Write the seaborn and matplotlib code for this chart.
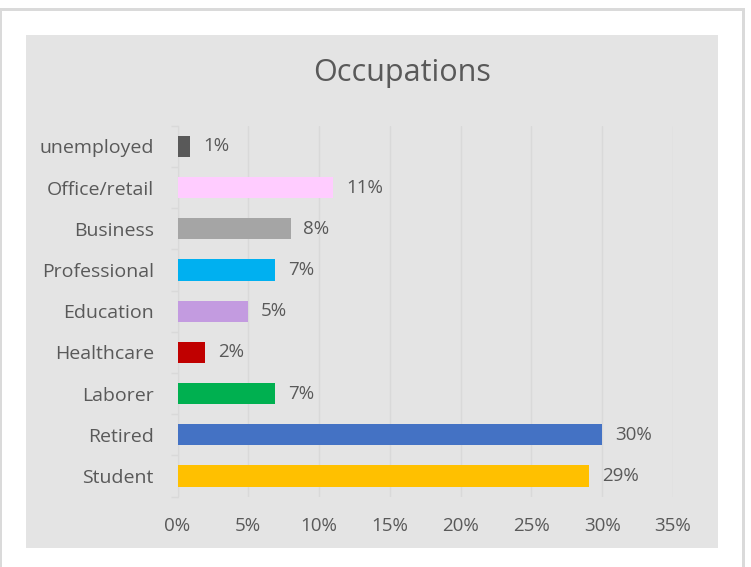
import numpy as np
import pandas as pd
import seaborn as sns
import matplotlib.pyplot as plt
from matplotlib.patches import Rectangle
from matplotlib.ticker import PercentFormatter, FixedLocator

occupations = ['unemployed', 'Office/retail', 'Business', 'Professional', 'Education',
               'Healthcare', 'Laborer', 'Retired', 'Student']
shares = [0.9, 11.0, 8.0, 6.9, 5.0, 1.95, 6.9, 30.0, 29.1]
bar_colors = ['#595959', '#ffccff', '#a5a5a5', '#00b0f0', '#c39be0',
              '#c00000', '#00b050', '#4472c4', '#ffc000']

df = pd.DataFrame({'occupation': occupations, 'share': shares})

sns.set_style('white')
plt.rcParams['font.family'] = ['Open Sans', 'DejaVu Sans']
text_color = '#595959'
grid_color = '#d9d9d9'

W, H = 751, 567
fig = plt.figure(figsize=(W / 100, H / 100), dpi=100)
fig.patch.set_facecolor('white')

# outer frame (top, left, right lines) and grey chart area
def box(x, y, w, h, color):
    fig.patches.append(Rectangle((x / W, 1 - (y + h) / H), w / W, h / H, transform=fig.transFigure,
                                 facecolor=color, edgecolor='none', zorder=-10))

box(0, 8, 745, 3, '#dadada')
box(0, 8, 2, H - 8, '#dadada')
box(742, 8, 3, H - 8, '#dadada')
box(26, 35, 692, 513, '#e4e4e4')

ax = fig.add_axes([177.5 / W, 1 - 496.6 / H, (673 - 177.5) / W, (496.6 - 125.8) / H])
ax.set_facecolor('none')

sns.barplot(data=df, y='occupation', x='share', hue='occupation', palette=bar_colors,
            order=occupations, hue_order=occupations, legend=False, width=0.51,
            saturation=1, linewidth=0, ax=ax, zorder=3)

for i, v in enumerate(shares):
    ax.text(v + 0.9, i, f'{round(v)}%', va='center', ha='left', fontsize=13.5, color=text_color)

ax.set_xlim(0, 35)
ax.set_ylim(8.5, -0.5)
ax.set_xticks(np.arange(0, 36, 5))
ax.xaxis.set_major_formatter(PercentFormatter(decimals=0))
ax.xaxis.grid(True, color=grid_color, linewidth=1)
ax.set_axisbelow(True)

ax.yaxis.set_minor_locator(FixedLocator(np.arange(-0.5, 9, 1)))
ax.tick_params(axis='y', which='major', length=0, pad=17, labelsize=14, labelcolor=text_color)
ax.tick_params(axis='y', which='minor', length=5, color=grid_color, width=1, left=True)
ax.tick_params(axis='x', length=0, pad=15, labelsize=13.5, labelcolor=text_color)

for side in ['top', 'right', 'bottom']:
    ax.spines[side].set_visible(False)
ax.spines['left'].set_color(grid_color)

ax.set_xlabel('')
ax.set_ylabel('')
fig.text(402 / W, 1 - 73 / H, 'Occupations', ha='center', va='center', fontsize=22, color=text_color)

fig.savefig('out.png', dpi=100)
